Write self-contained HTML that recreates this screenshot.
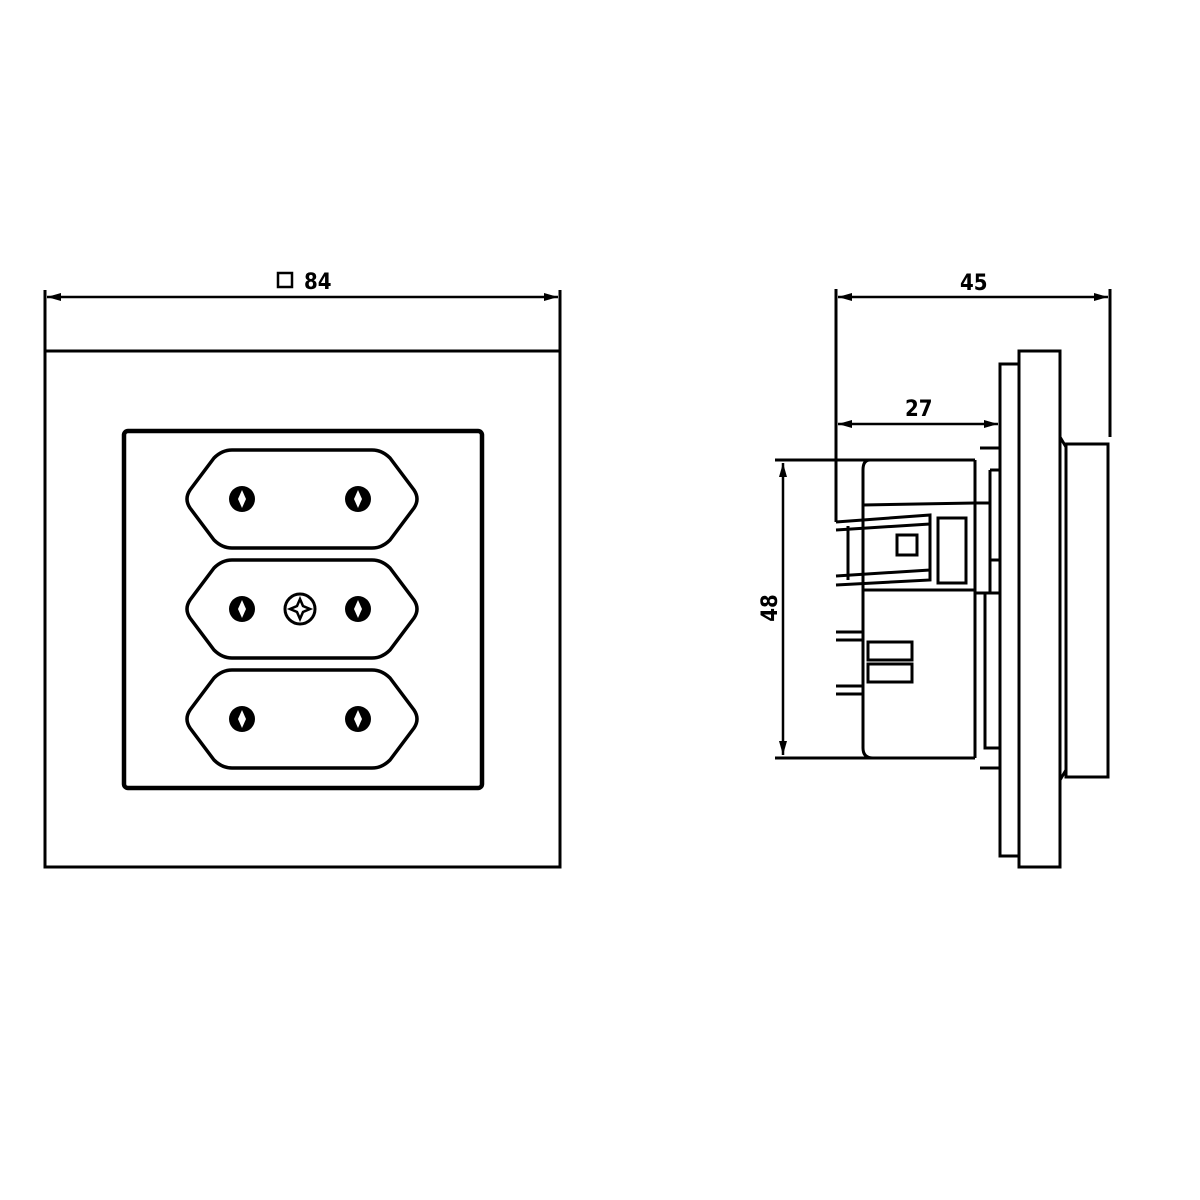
<!DOCTYPE html>
<html><head><meta charset="utf-8"><style>
html,body{margin:0;padding:0;background:#fff}
svg{display:block}
text{font-family:"DejaVu Sans Condensed","Liberation Sans",sans-serif;font-weight:bold;font-size:22px;fill:#000}
</style></head><body>
<svg width="1200" height="1200" viewBox="0 0 1200 1200" xmlns="http://www.w3.org/2000/svg">
<defs>
<g id="sock">
<path d="M232,0 L372,0 Q382,0 390,8 L414,40 Q420,49 414,58 L390,90 Q382,98 372,98 L232,98 Q222,98 214,90 L190,58 Q184,49 190,40 L214,8 Q222,0 232,0 Z" fill="none" stroke="#000" stroke-width="3.5"/>
<circle cx="242" cy="49" r="13" fill="#000"/><path d="M242,40 L246,49 L242,58 L238,49Z" fill="#fff"/>
<circle cx="358" cy="49" r="13" fill="#000"/><path d="M358,40 L362,49 L358,58 L354,49Z" fill="#fff"/>
</g>
<marker id="a" viewBox="0 0 14 8" refX="14" refY="4" markerWidth="14" markerHeight="8" orient="auto-start-reverse" markerUnits="userSpaceOnUse"><path d="M0,0 L14,4 L0,8Z" fill="#000"/></marker>
</defs>
<g fill="none" stroke="#000" stroke-width="3">
<line x1="45" y1="290" x2="45" y2="867"/>
<line x1="560" y1="290" x2="560" y2="867"/>
<line x1="47" y1="297" x2="558" y2="297" stroke-width="2.5" marker-start="url(#a)" marker-end="url(#a)"/>
<rect x="45" y="351" width="515" height="516"/>
<rect x="124" y="431" width="358" height="357" rx="4" stroke-width="4.5"/>
</g>
<use href="#sock" x="0" y="450"/>
<use href="#sock" x="0" y="560"/>
<use href="#sock" x="0" y="670"/>
<circle cx="300" cy="609" r="15" fill="none" stroke="#000" stroke-width="3"/>
<path d="M300,599 L303,606 L310,609 L303,612 L300,619 L297,612 L290,609 L297,606Z" fill="none" stroke="#000" stroke-width="2.5"/>
<rect x="278" y="273" width="14" height="14" fill="none" stroke="#000" stroke-width="2.5"/>
<text x="304" y="289">84</text>

<g fill="none" stroke="#000" stroke-width="3">
<line x1="836" y1="289" x2="836" y2="522"/>
<line x1="1110" y1="289" x2="1110" y2="437"/>
<line x1="838" y1="297" x2="1108" y2="297" stroke-width="2.5" marker-start="url(#a)" marker-end="url(#a)"/>
<line x1="838" y1="424" x2="998" y2="424" stroke-width="2.5" marker-start="url(#a)" marker-end="url(#a)"/>
<rect x="1000" y="364" width="19" height="492"/>
<rect x="1019" y="351" width="41" height="516"/>
<path d="M1060,437 L1066,447 L1066,770 L1060,780"/>
<rect x="1066" y="444" width="42" height="333"/>
<line x1="775" y1="460" x2="975" y2="460"/>
<line x1="775" y1="758" x2="975" y2="758"/>
<line x1="783" y1="463" x2="783" y2="755" stroke-width="2.5" marker-start="url(#a)" marker-end="url(#a)"/>
<path d="M975,460 L975,758 M870,460 Q863,460 863,470 L863,748 Q863,758 873,758"/>
<path d="M863,505 L975,503 M863,590 L975,590"/>
<rect x="975" y="503" width="15" height="90"/>
<path d="M990,470 L1000,470 M990,503 L990,470 M990,593 L1000,593 M985,593 L985,748 L1000,748 M980,448 L1000,448 M980,768 L1000,768"/>
<path d="M836,522 L930,515 L930,580 L836,585 M836,530 L930,524 M836,576 L930,570"/>
<line x1="848" y1="526" x2="848" y2="580"/>
<rect x="897" y="535" width="20" height="20"/>
<rect x="938" y="518" width="28" height="65"/>
<path d="M836,632 L863,632 M836,640 L863,640 M836,686 L863,686 M836,694 L863,694"/>
<rect x="868" y="642" width="44" height="18"/>
<rect x="868" y="664" width="44" height="18"/>
<line x1="990" y1="560" x2="1000" y2="560"/>
</g>
<text x="960" y="290">45</text>
<text x="905" y="416">27</text>
<text transform="translate(777,608) rotate(-90)" text-anchor="middle">48</text>
</svg>
</body></html>
